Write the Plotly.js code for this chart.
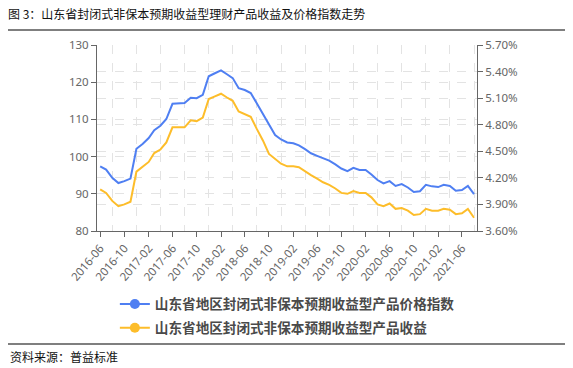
<!DOCTYPE html>
<html>
<head>
<meta charset="utf-8">
<script src="https://cdn.plot.ly/plotly-3.0.1.min.js"></script>
<style>
html,body{margin:0;padding:0;background:#fff;}
#chart{width:573px;height:368px;}
</style>
</head>
<body>
<div id="chart"></div>
<script>
var months = ["2016-06","2016-07","2016-08","2016-09","2016-10","2016-11","2016-12",
"2017-01","2017-02","2017-03","2017-04","2017-05","2017-06","2017-07","2017-08","2017-09","2017-10","2017-11","2017-12",
"2018-01","2018-02","2018-03","2018-04","2018-05","2018-06","2018-07","2018-08","2018-09","2018-10","2018-11","2018-12",
"2019-01","2019-02","2019-03","2019-04","2019-05","2019-06","2019-07","2019-08","2019-09","2019-10","2019-11","2019-12",
"2020-01","2020-02","2020-03","2020-04","2020-05","2020-06","2020-07","2020-08","2020-09","2020-10","2020-11","2020-12",
"2021-01","2021-02","2021-03","2021-04","2021-05","2021-06","2021-07","2021-08"];

var priceIndex = [97.4, 96.5, 94.3, 92.9, 93.4, 94.1,
  102.1, 103.4, 105.0, 107.1, 108.3, 110.1,
  114.2, 114.2, 114.4, 115.8, 115.7, 116.6,
  121.6, 122.4, 123.2, 122.2, 121.1, 118.4,
  117.9, 117.1, 114.3, 111.6, 108.6, 105.8,
  104.6, 103.8, 103.6, 103.0, 102.0, 100.9,
  100.2, 99.5, 98.9, 97.9, 96.8, 96.1,
  97.0, 96.4, 96.4, 95.2, 93.7, 92.8,
  93.4, 92.1, 92.6, 91.7, 90.5, 90.7,
  92.4, 92.0, 91.8, 92.4, 92.1, 90.8,
  91.0, 92.1, 89.9];

var yieldPct = [4.07, 4.03, 3.94, 3.88, 3.90, 3.93,
  4.27, 4.33, 4.38, 4.48, 4.52, 4.60,
  4.77, 4.77, 4.77, 4.85, 4.84, 4.88,
  5.09, 5.12, 5.15, 5.11, 5.07, 4.95,
  4.92, 4.89, 4.75, 4.62, 4.47, 4.41,
  4.36, 4.33, 4.33, 4.32, 4.27, 4.23,
  4.19, 4.15, 4.12, 4.08, 4.03, 4.02,
  4.05, 4.03, 4.03, 3.98, 3.90, 3.88,
  3.91, 3.85, 3.86, 3.83, 3.78, 3.79,
  3.85, 3.83, 3.83, 3.85, 3.84, 3.79,
  3.80, 3.85, 3.75];

var seriesNames = ["山东省地区封闭式非保本预期收益型产品价格指数", "山东省地区封闭式非保本预期收益型产品收益"];
var colors = ["#4F7FF2", "#FDBD2A"];

var titleText = "图 3：山东省封闭式非保本预期收益型理财产品收益及价格指数走势";
var sourceText = "资料来源：普益标准";

var cjk = "'Noto Sans CJK SC', 'Noto Sans', sans-serif";
var tickFont = {family: "'Noto Sans', 'DejaVu Sans', sans-serif", size: 11.5, color: "#666"};
var gridC = "#e3e3e3";

var traces = [
  {x: months, y: priceIndex, type: "scatter", mode: "lines", yaxis: "y",
   line: {color: colors[0], width: 2}, showlegend: false, hoverinfo: "skip"},
  {x: months, y: yieldPct, type: "scatter", mode: "lines", yaxis: "y2",
   line: {color: colors[1], width: 2}, showlegend: false, hoverinfo: "skip"},
  {x: [months[0]], y: [null], type: "scatter", mode: "lines+markers", yaxis: "y",
   name: seriesNames[0], legendgroup: "a", line: {color: colors[0], width: 2}, marker: {color: colors[0], size: 10}},
  {x: [months[0]], y: [null], type: "scatter", mode: "lines+markers", yaxis: "y2",
   name: seriesNames[1], legendgroup: "b", line: {color: colors[1], width: 2}, marker: {color: colors[1], size: 10}}
];

var layout = {
  width: 573, height: 368,
  margin: {l: 97, r: 96, t: 45, b: 137},
  paper_bgcolor: "#fff", plot_bgcolor: "#fff",
  showlegend: true,
  title: {text: titleText, font: {family: cjk, size: 12, color: "#111"},
          x: 8/573, xanchor: "left", xref: "container", y: 1 - 15/368, yanchor: "middle", yref: "container"},
  xaxis: {
    type: "date",
    range: ["2016-05-16", "2021-08-16"],
    tick0: "2016-06-01", dtick: "M4", tickformat: "%Y-%m",
    tickangle: -50,
    tickfont: tickFont,
    ticks: "outside", ticklen: 5, tickcolor: "#666",
    showline: true, linecolor: "#666", linewidth: 1,
    showgrid: false, zeroline: false,
    minor: {tick0: "2016-08-01", dtick: "M4", showgrid: true, gridcolor: gridC, griddash: "dash", gridwidth: 1, ticks: ""}
  },
  yaxis: {
    range: [80, 130], dtick: 10, tick0: 80,
    tickfont: tickFont,
    ticks: "outside", ticklen: 5, tickcolor: "#666",
    showline: true, linecolor: "#666", linewidth: 1,
    showgrid: true, gridcolor: gridC, griddash: "dash", zeroline: false
  },
  yaxis2: {
    overlaying: "y", side: "right",
    range: [3.6, 5.7], dtick: 0.3, tick0: 3.6, tickformat: ".2f", ticksuffix: "%",
    tickfont: tickFont,
    ticks: "outside", ticklen: 5, tickcolor: "#666",
    showline: true, linecolor: "#666", linewidth: 1,
    showgrid: true, gridcolor: gridC, griddash: "dash", zeroline: false
  },
  legend: {
    orientation: "v", x: 0.047, xanchor: "left", y: -0.31, yanchor: "top",
    font: {family: cjk, size: 13.6, color: "#4a4a4a", weight: "bold"},
    tracegroupgap: 3,
    bgcolor: "rgba(0,0,0,0)", borderwidth: 0
  },
  shapes: [
    {type: "line", xref: "paper", yref: "paper", x0: (8-97)/380, x1: (565-97)/380,
     y0: (231-30)/186, y1: (231-30)/186, line: {color: "#000", width: 1.2}},
    {type: "line", xref: "paper", yref: "paper", x0: (8-97)/380, x1: (565-97)/380,
     y0: (231-344)/186, y1: (231-344)/186, line: {color: "#000", width: 1.2}}
  ],
  annotations: [
    {text: sourceText, xref: "paper", yref: "paper", x: (8-97)/380, y: (231-357)/186,
     xanchor: "left", yanchor: "middle", showarrow: false,
     font: {family: cjk, size: 12, color: "#111"}}
  ]
};

Plotly.newPlot("chart", traces, layout, {displayModeBar: false, staticPlot: true});
</script>
</body>
</html>
